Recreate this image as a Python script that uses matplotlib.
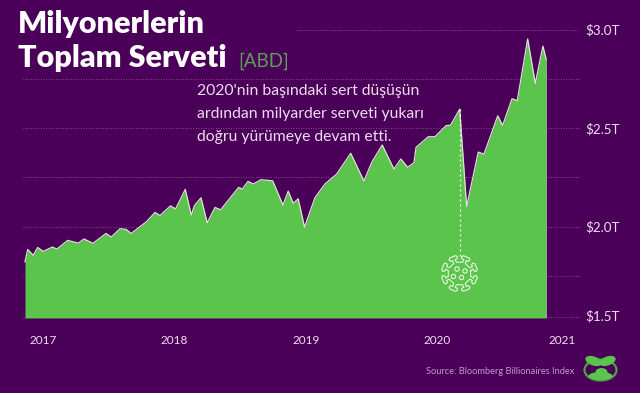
import numpy as np
import matplotlib
matplotlib.use("Agg")
import matplotlib.pyplot as plt
from matplotlib.patches import Circle, Ellipse

BG = "#4a0058"
GREEN = "#5bc44c"
ICON = "#e9f6e0"

# decimal year, total wealth in trillions
dates = [2016.863, 2016.884, 2016.926, 2016.960, 2017.002, 2017.071, 2017.106, 2017.188, 2017.268, 2017.312,
         2017.380, 2017.479, 2017.519, 2017.586, 2017.631, 2017.671, 2017.789, 2017.852, 2017.890, 2017.969,
         2018.009, 2018.082, 2018.128, 2018.151, 2018.202, 2018.249, 2018.308, 2018.351, 2018.488, 2018.516,
         2018.559, 2018.599, 2018.658, 2018.747, 2018.825, 2018.865, 2018.903, 2018.941, 2018.989, 2019.068,
         2019.144, 2019.233, 2019.340, 2019.441, 2019.500, 2019.580, 2019.669, 2019.722, 2019.773, 2019.821,
         2019.837, 2019.930, 2019.981, 2020.065, 2020.100, 2020.169, 2020.222, 2020.310, 2020.354, 2020.458,
         2020.496, 2020.567, 2020.607, 2020.686, 2020.744, 2020.802, 2020.827]
wealth = [1.821, 1.884, 1.854, 1.894, 1.874, 1.896, 1.886, 1.930, 1.916, 1.937,
          1.915, 1.965, 1.947, 1.989, 1.986, 1.965, 2.026, 2.072, 2.056, 2.105,
          2.090, 2.189, 2.058, 2.106, 2.146, 2.019, 2.097, 2.085, 2.199, 2.190,
          2.229, 2.216, 2.238, 2.232, 2.109, 2.180, 2.118, 2.141, 1.997, 2.146,
          2.216, 2.266, 2.372, 2.231, 2.326, 2.414, 2.292, 2.343, 2.301, 2.324,
          2.402, 2.456, 2.456, 2.512, 2.515, 2.596, 2.101, 2.378, 2.368, 2.562,
          2.514, 2.649, 2.639, 2.952, 2.727, 2.916, 2.849]

year_ticks = [2017, 2018, 2019, 2020, 2020.95]
year_labels = ["2017", "2018", "2019", "2020", "2021"]
value_ticks = [3.0, 2.5, 2.0, 1.55]
value_labels = ["$3.0T", "$2.5T", "$2.0T", "$1.5T"]
grid_values = [2.75, 2.5, 2.25, 2.0, 1.75, 1.541]

W, H = 640, 393
fig = plt.figure(figsize=(W / 100, H / 100), dpi=100, facecolor=BG)
ax = fig.add_axes([23 / W, 75 / H, 557 / W, 318 / H], facecolor=BG)
ax.set_xlim(2016.848, 2021.084)
ax.set_ylim(1.536, 3.15)

for g in grid_values:
    ax.axhline(g, color="#b98ac4", lw=0.6, ls=(0, (1, 2)), alpha=0.7, zorder=1)
ax.hlines(3.0, 2018.93, 2021.084, color="#b98ac4", lw=0.6, ls=(0, (1, 2)), alpha=0.7, zorder=1)

ax.fill_between(dates, 1.536, wealth, color=GREEN, lw=0, zorder=2)
ax.plot(dates, wealth, color="#dfe2d8", lw=0.9, zorder=3)
ax.plot([dates[-1], dates[-1]], [1.536, wealth[-1]], color="#b0b8a8", lw=0.5, zorder=3)

# covid drop marker
ax.plot([2020.169, 2020.169], [1.85, 2.596], color="#eef6e6", lw=0.9, ls=(0, (1.6, 2.4)), zorder=4)

ax.set_xticks(year_ticks, year_labels)
ax.set_yticks(value_ticks, value_labels)
ax.yaxis.tick_right()
ax.tick_params(axis="x", length=0, pad=12, labelsize=8.5, labelcolor="#f3dcf3")
ax.tick_params(axis="y", length=0, pad=4, labelsize=9.6, labelcolor="#f3dcf3")
for lab in ax.get_xticklabels() + ax.get_yticklabels():
    lab.set_family("Lato")
for s in ax.spines.values():
    s.set_visible(False)


def ftext(x, y, s, **kw):
    fig.text(x / W, 1 - y / H, s, va="center", **kw)


ftext(18, 24, "Milyonerlerin", color="white", fontsize=22, family="Lato", fontweight="heavy")
ftext(18, 58, "Toplam Serveti", color="white", fontsize=22, family="Lato", fontweight="heavy")
ftext(238, 61, "[ABD]", color="#5f9f58", fontsize=13.5, family="Lato", fontweight="normal")
note = ["2020'nin başındaki sert düşüşün", "ardından milyarder serveti yukarı", "doğru yürümeye devam etti."]
for i, line in enumerate(note):
    ftext(197, 91 + i * 23, line, color="#eedcf0", fontsize=11.3, family="Lato", fontweight="normal")
ftext(426, 371, "Source: Bloomberg Billionaires Index", color="#c795d6", fontsize=6.7, family="Lato")

# virus icon, spikes with mushroom heads
ic = fig.add_axes([(459.5 - 22) / W, 1 - (273.5 + 22) / H, 44 / W, 44 / H])
ic.set_xlim(-22, 22)
ic.set_ylim(-22, 22)
ic.axis("off")
spike_u = np.array([11.5, 14.5, 14.5, 16.5, 18, 18, 16.5, 14.5, 14.5, 11.5])
spike_v = np.array([-1.5, -1.3, -3.5, -4.5, -3, 3, 4.5, 3.5, 1.3, 1.5])
xs, ys = [], []
for a in np.arange(8) * np.pi / 4 + np.pi / 8:
    xs += list(spike_u * np.cos(a) - spike_v * np.sin(a))
    ys += list(spike_u * np.sin(a) + spike_v * np.cos(a))
ic.plot(xs + xs[:1], ys + ys[:1], color=ICON, lw=0.8)
for cx, cy in [(-2.5, 4.5), (5.5, 2.5), (-6, -3), (2, -4)]:
    ic.add_patch(Circle((cx, cy), 2.2, fill=False, ec=ICON, lw=0.8))

# logo
lg = fig.add_axes([(600.5 - 20) / W, 1 - (369 + 18) / H, 40 / W, 36 / H])
lg.set_xlim(-20, 20)
lg.set_ylim(-18, 18)
lg.axis("off")
lg.add_patch(Ellipse((0, -1), 32, 21, fill=False, ec="#4f9e48", lw=1.6))
lg.add_patch(Ellipse((-7, 8), 17, 9, angle=-20, color=GREEN, lw=0))
lg.add_patch(Ellipse((7, 8), 17, 9, angle=20, color=GREEN, lw=0))
lg.add_patch(Ellipse((0, -7), 24, 8, color=GREEN, lw=0))
lg.add_patch(Ellipse((1, -3), 12, 8, color=GREEN, lw=0))

fig.savefig("out.png", dpi=100, facecolor=BG)
